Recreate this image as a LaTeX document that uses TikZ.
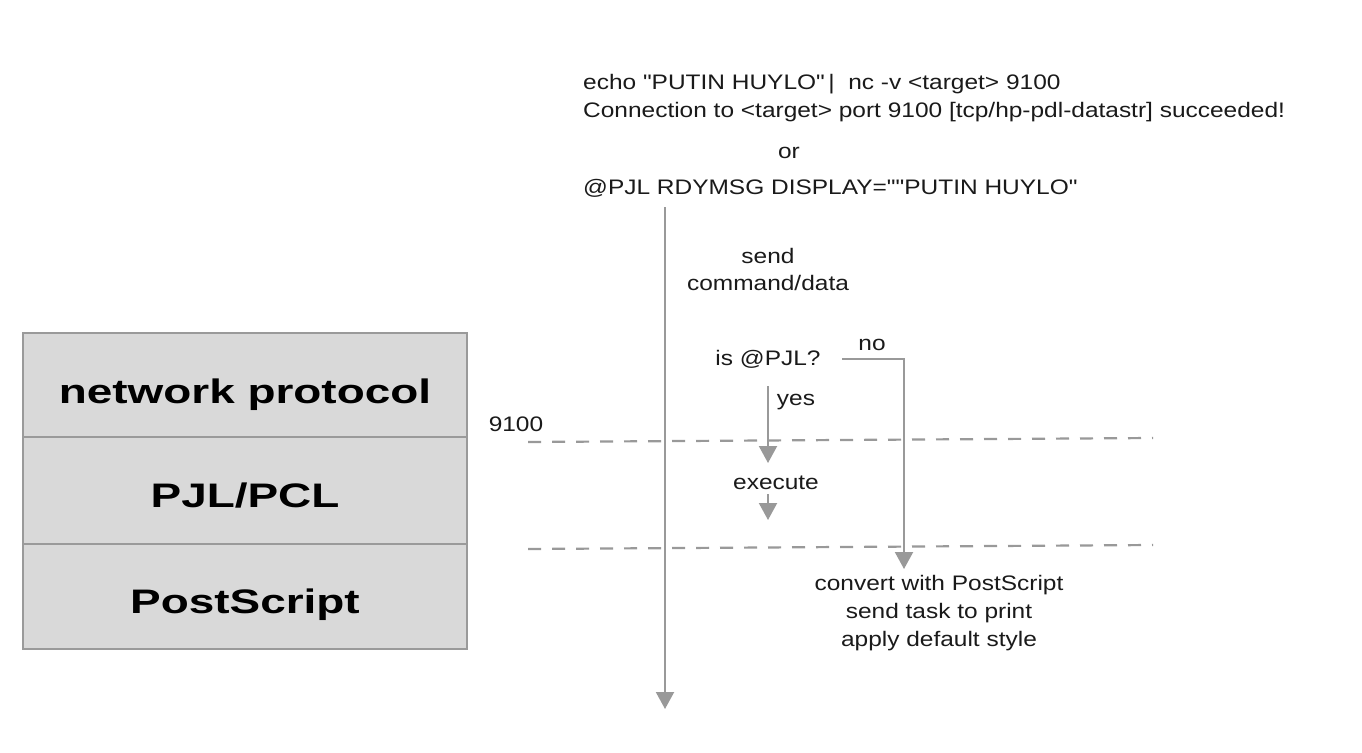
\documentclass[tikz,border=0pt]{standalone}
\usepackage{fontspec}
\setmainfont[FakeStretch=1.165]{Liberation Sans}
\newfontfamily\plainfont[FakeStretch=1.165]{Liberation Sans}
\newfontfamily\boxfont[FakeStretch=1.35]{Liberation Sans}
\usetikzlibrary{arrows.meta}
\definecolor{linegray}{HTML}{999999}
\definecolor{boxfill}{HTML}{D9D9D9}
\definecolor{boxline}{HTML}{9A9A9A}
\definecolor{txt}{HTML}{1A1A1A}
\tikzset{
  lbl/.style={font=\plainfont\fontsize{21}{27}\selectfont, inner sep=0pt, text=txt},
  flow/.style={draw=linegray, line width=2pt, -{Triangle[width=18pt,length=17pt]}},
  portline/.style={draw=linegray, line width=2.2pt, dash pattern=on 13pt off 11pt},
  layer/.style={draw=boxline, fill=boxfill, line width=2pt, minimum width=444pt, inner sep=0pt},
  layertext/.style={font=\boxfont\bfseries\fontsize{34}{40}\selectfont, text=black, inner sep=0pt, anchor=base},
}
\begin{document}
\begin{tikzpicture}[x=1pt,y=-1pt]
\useasboundingbox (0,0) rectangle (1362,752);
\fill[white] (0,0) rectangle (1362,752);

% layer boxes
\node[layer, minimum height=104pt] (net) at (245,385) {};
\node[layer, minimum height=107pt] (pjl) at (245,490.5) {};
\node[layer, minimum height=105pt] (ps) at (245,596.5) {};
\node[layertext] (netl) at (245,403) {network protocol};
\node[layertext] (pjll) at (245,507) {PJL/PCL};
\node[layertext] (psl) at (245,613) {PostScript};

% command texts
\node[lbl, anchor=base west] (l1) at (583,89) {echo "PUTIN HUYLO"\,|\ \ nc -v <target> 9100};
\node[lbl, anchor=base west] (l2) at (583,117) {Connection to <target> port 9100 [tcp/hp-pdl-datastr] succeeded!};
\node[lbl, anchor=base] (or) at (789,158) {or};
\node[lbl, anchor=base west] (cmd) at (583,194) {@PJL RDYMSG DISPLAY=""PUTIN HUYLO"};

% flow labels
\node[lbl, align=center] (send) at (768,269) {send\\command/data};
\node[lbl] (ispjl) at (768,359) {is @PJL?};
\node[lbl] (no) at (872,345) {no};
\node[lbl] (yes) at (796,402) {yes};
\node[lbl] (exec) at (776,483) {execute};
\node[lbl, align=center, font=\plainfont\fontsize{21}{28}\selectfont] (conv) at (939,613) {convert with PostScript\\send task to print\\apply default style};
\node[lbl] (port) at (516,424) {9100};

% coordinates
\coordinate (mtop) at (665,207);
\coordinate (mbot) at (665,709);
\coordinate (yestop) at (768,386);
\coordinate (yesend) at (768,463);
\coordinate (nostart) at (842,359);
\coordinate (noend) at (904,569);
\coordinate (extop) at (768,494);
\coordinate (exend) at (768,520);
\coordinate (d1a) at (528,442);
\coordinate (d1b) at (1153,438);
\coordinate (d2a) at (528,549);
\coordinate (d2b) at (1153,545);

% dashed layer boundaries
\draw[portline] (d1a) -- (d1b);
\draw[portline] (d2a) -- (d2b);

% arrows
\draw[flow] (mtop) -- (mbot);
\draw[flow] (yestop) -- (yesend);
\draw[flow] (nostart) -| (noend);
\draw[flow] (extop) -- (exend);
\end{tikzpicture}
\end{document}
